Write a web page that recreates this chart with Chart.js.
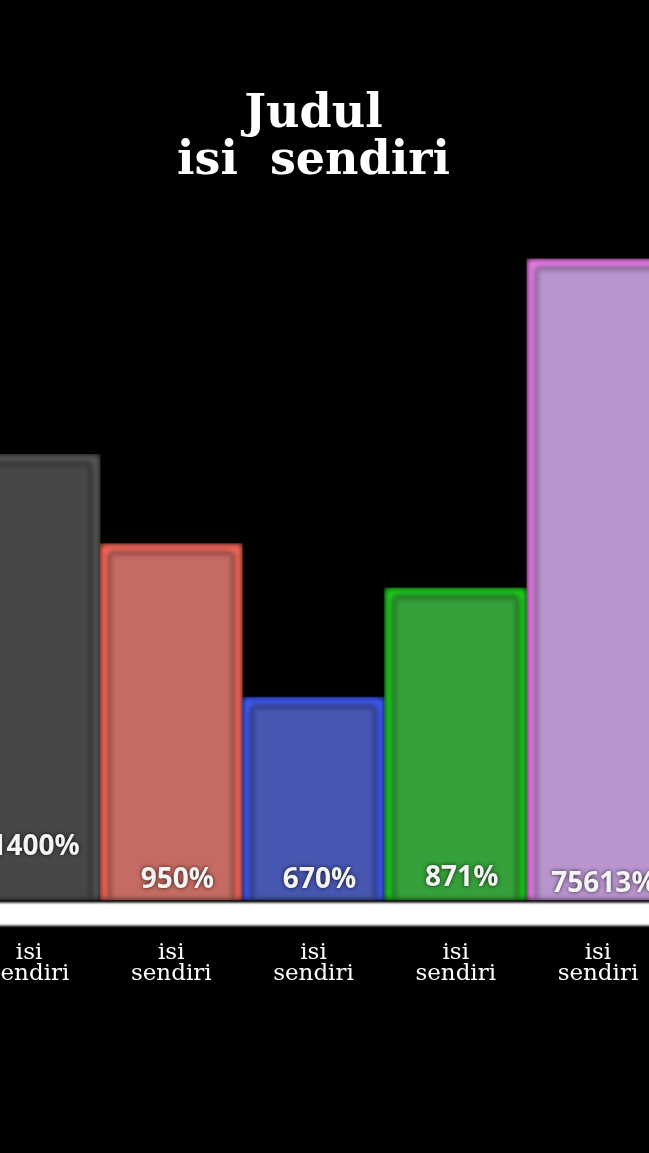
<!DOCTYPE html>
<html>
<head>
<meta charset="utf-8">
<script src="https://cdn.jsdelivr.net/npm/chart.js@4"></script>
<style>
  html, body { margin: 0; padding: 0; background: #000; overflow: hidden; }
  #wrap { position: absolute; left: -45px; top: 0; width: 717px; height: 1153px; }
</style>
</head>
<body>
<div id="wrap"><canvas id="bars"></canvas></div>
<script>
// data (bar heights in screen px, labels as printed)
const categories = [['isi', 'sendiri'], ['isi', 'sendiri'], ['isi', 'sendiri'], ['isi', 'sendiri'], ['isi', 'sendiri']]
const barHeights = [445, 356, 203, 312, 640]
const valueLabels = ['1400%', '950%', '670%', '871%', '75613%']
const titleLines = ['Judul', 'isi  sendiri']

const fills = ['#474747', '#c46b63', '#4756b0', '#36a03a', '#b995d0']
const borders = ['#5a5a5a', '#ff6b5c', '#3f5cff', '#1ed21e', '#f77ff5']

// bars in the source look soft, like a blurred video frame
const softBars = {
  id: 'softBars',
  beforeDatasetsDraw(chart) {
    chart.ctx.save()
    chart.ctx.filter = 'blur(3px)'
  },
  afterDatasetsDraw(chart) {
    chart.ctx.restore()
    const ctx = chart.ctx
    const area = chart.chartArea
    // white strip under the bars
    ctx.save()
    ctx.filter = 'blur(1px)'
    ctx.fillStyle = '#ffffff'
    ctx.fillRect(0, area.bottom + 2, chart.width, 23)
    ctx.restore()

    // percentage labels at the foot of each bar
    const lift = [40, 7, 7, 9, 3]
    ctx.save()
    ctx.font = 'bold 28px "Open Sans"'
    ctx.textAlign = 'center'
    ctx.textBaseline = 'bottom'
    ctx.fillStyle = '#f4f4f4'
    ctx.shadowColor = 'rgba(0,0,0,0.75)'
    ctx.shadowBlur = 4
    chart.getDatasetMeta(0).data.forEach((bar, i) => {
      ctx.fillText(valueLabels[i], bar.x + 6, bar.base - lift[i])
    })
    ctx.restore()
  }
}

const ctx = document.getElementById('bars').getContext('2d')

new Chart(ctx, {
  type: 'bar',
  data: {
    labels: categories,
    datasets: [{
      data: barHeights,
      backgroundColor: fills,
      borderColor: borders,
      borderWidth: 9,
      borderSkipped: 'bottom',
      barPercentage: 1,
      categoryPercentage: 1
    }]
  },
  options: {
    responsive: true,
    maintainAspectRatio: false,
    animation: false,
    layout: { padding: { bottom: 135 } },
    plugins: {
      legend: { display: false },
      tooltip: { enabled: false },
      title: {
        display: true,
        text: titleLines,
        color: '#ffffff',
        font: { family: 'DejaVu Serif', weight: 'bold', size: 46, lineHeight: 1.02 },
        padding: { top: 92, bottom: 53 }
      }
    },
    scales: {
      x: {
        grid: { display: false },
        border: { display: false },
        ticks: {
          color: '#ffffff',
          padding: 34,
          maxRotation: 0,
          font: { family: 'DejaVu Serif', size: 23, lineHeight: 0.9 }
        }
      },
      y: {
        display: false,
        min: 0,
        max: 660
      }
    }
  },
  plugins: [softBars]
})
</script>
</body>
</html>
